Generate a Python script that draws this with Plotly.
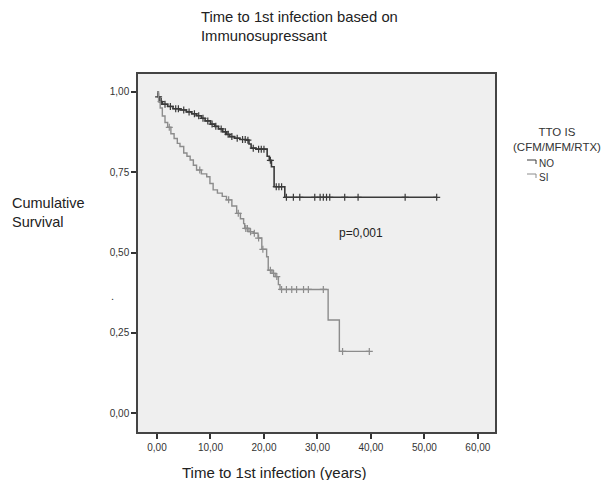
import numpy as np
import plotly.graph_objects as go

# ---- data ----
x_ticks = [0, 10, 20, 30, 40, 50, 60]
x_tick_labels = ["0,00", "10,00", "20,00", "30,00", "40,00", "50,00", "60,00"]
y_ticks = [0, 0.25, 0.5, 0.75, 1.0]
y_tick_labels = ["0,00", "0,25", "0,50", "0,75", "1,00"]

no_times = [0, 0.2, 0.5, 1.0, 2.0, 3.0, 4.3, 5.5, 6.5, 7.4, 8.3, 9.0, 10.0, 10.8, 11.5,
            12.3, 13.0, 13.6, 14.5, 15.5, 16.8, 17.2, 17.6, 18.5, 20.6, 21.0, 21.4, 21.9, 23.9]
no_surv = [1.0, 0.985, 0.97, 0.962, 0.955, 0.948, 0.944, 0.938, 0.932, 0.926, 0.918, 0.91, 0.90,
           0.893, 0.885, 0.876, 0.868, 0.861, 0.856, 0.852, 0.85, 0.838, 0.825, 0.822, 0.80,
           0.787, 0.767, 0.705, 0.672]
no_end = 52.3
no_censor = [0.3, 0.8, 1.5, 2.5, 3.5, 4.0, 5.0, 6.0, 7.0, 7.8, 8.6, 9.5, 10.3, 11.0, 12.0,
             12.8, 13.3, 14.0, 15.0, 16.0, 16.5, 17.0, 18.0, 19.0, 19.5, 20.0, 21.2, 22.3,
             22.8, 23.3, 24.2, 25.5, 26.7, 29.5, 30.5, 31.1, 31.7, 32.3, 35.1, 37.6, 46.4, 52.3]

si_times = [0, 0.3, 0.6, 1.0, 1.5, 2.0, 2.6, 3.2, 3.8, 4.3, 5.0, 5.6, 6.2, 6.8, 7.4, 8.3, 9.3,
            9.9, 10.5, 11.3, 12.2, 13.0, 14.0, 14.9, 15.6, 16.2, 16.4, 17.2, 18.0, 18.9, 19.6,
            20.5, 20.8, 21.5, 22.1, 22.7, 23.0, 32.0, 34.1]
si_surv = [1.0, 0.97, 0.95, 0.925, 0.905, 0.89, 0.87, 0.855, 0.84, 0.83, 0.81, 0.80, 0.788,
           0.772, 0.757, 0.745, 0.736, 0.715, 0.695, 0.685, 0.675, 0.664, 0.645, 0.622, 0.605,
           0.59, 0.575, 0.565, 0.56, 0.545, 0.51, 0.487, 0.445, 0.435, 0.425, 0.40, 0.385,
           0.29, 0.192]
si_end = 39.7
si_censor = [2.3, 8.0, 13.4, 15.2, 16.6, 16.9, 17.5, 18.2, 19.0, 19.8,
             21.2, 21.8, 22.4, 23.3, 24.2, 25.2, 26.1, 27.4, 28.3, 31.1, 34.7, 39.7]

NO_COLOR = "#3a3a3a"
SI_COLOR = "#8c8c8c"


def step_xy(times, surv, end):
    xs = list(times) + [end]
    ys = list(surv) + [surv[-1]]
    return xs, ys


def surv_at(times, surv, t):
    idx = np.searchsorted(np.array(times), np.array(t), side="right") - 1
    return [surv[i] for i in idx]


fig = go.Figure()
for times, surv, end, cens, col, name, lw in [
    (no_times, no_surv, no_end, no_censor, NO_COLOR, "NO", 1.6),
    (si_times, si_surv, si_end, si_censor, SI_COLOR, "SI", 1.4),
]:
    xs, ys = step_xy(times, surv, end)
    fig.add_trace(go.Scatter(x=xs, y=ys, mode="lines", line=dict(color=col, width=lw, shape="hv"),
                             name=name, showlegend=False, hoverinfo="skip"))
    fig.add_trace(go.Scatter(x=cens, y=surv_at(times, surv, cens), mode="markers",
                             marker=dict(symbol="cross-thin", size=5, line=dict(color=col, width=1.2)),
                             showlegend=False, hoverinfo="skip"))

L, R, T, B = 138, 495, 74, 432
W, H = 604, 480


def px(x):
    return (x - L) / (R - L)


def py(y):
    return (B - y) / (B - T)


ann = [
    dict(text="Time to 1st infection based on<br>Immunosupressant", x=px(199), y=py(26.5),
         xanchor="left", yanchor="middle", align="left", font=dict(size=14.8, color="#222")),
    dict(text="Cumulative<br>Survival", x=px(10), y=py(212), xanchor="left", yanchor="middle",
         align="left", font=dict(size=14.5, color="#222")),
    dict(text="Time to 1st infection (years)", x=px(274.5), y=py(472), xanchor="center",
         yanchor="middle", font=dict(size=15, color="#222")),
    dict(text="TTO IS<br>(CFM/MFM/RTX)", x=px(557), y=py(139), xanchor="center", yanchor="middle",
         align="center", font=dict(size=11.5, color="#333")),
    dict(text="NO", x=px(537), y=py(163), xanchor="left", yanchor="middle", font=dict(size=10, color="#333")),
    dict(text="SI", x=px(537), y=py(177), xanchor="left", yanchor="middle", font=dict(size=10, color="#333")),
    dict(text=".", x=px(112), y=py(296), xanchor="center", yanchor="middle", font=dict(size=11, color="#333")),
]
for a in ann:
    a.update(xref="paper", yref="paper", showarrow=False)
ann.append(dict(text="p=0,001", x=33.6, y=0.56, xref="x", yref="y", xanchor="left", yanchor="middle",
                showarrow=False, font=dict(size=12, color="#222")))

shapes = []
for yy, col in [(160, NO_COLOR), (174, SI_COLOR)]:
    shapes.append(dict(type="path", xref="paper", yref="paper",
                       path=f"M {px(527)} {py(yy)} L {px(536)} {py(yy)} L {px(536)} {py(yy + 4)}",
                       line=dict(color=col, width=1)))

fig.update_layout(
    width=W, height=H,
    margin=dict(l=L, r=W - R, t=T, b=H - B),
    paper_bgcolor="white", plot_bgcolor="#efefef",
    font=dict(family="Liberation Sans, Arial, sans-serif", color="#333"),
    annotations=ann, shapes=shapes,
    xaxis=dict(range=[-3.55, 63.2], tickvals=x_ticks, ticktext=x_tick_labels, ticks="outside",
               ticklen=5, tickwidth=1.5, tickcolor="#333", showgrid=False, zeroline=False,
               showline=True, mirror=True, linecolor="#444", linewidth=1.5,
               tickfont=dict(size=10, color="#333")),
    yaxis=dict(range=[-0.059, 1.056], tickvals=y_ticks, ticktext=y_tick_labels, ticks="outside",
               ticklen=5, tickwidth=1.5, tickcolor="#333", showgrid=False, zeroline=False,
               showline=True, mirror=True, linecolor="#444", linewidth=1.5,
               tickfont=dict(size=10, color="#333")),
)

fig.write_html("out.html", config={"displayModeBar": False},
               post_script="document.body.style.margin='0';document.body.style.overflow='hidden';")
